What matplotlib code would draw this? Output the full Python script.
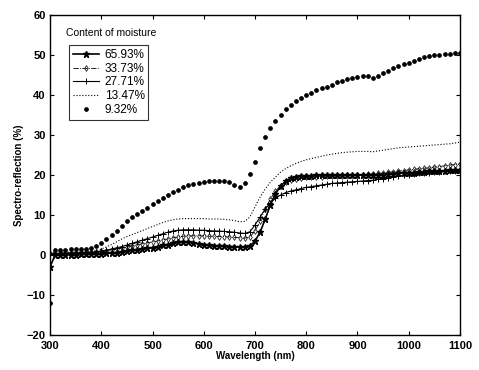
import numpy as np
import matplotlib
matplotlib.use('Agg')
import matplotlib.pyplot as plt

plt.rcParams['font.family'] = ['Liberation Sans', 'DejaVu Sans']

# wavelength grid (nm), 10 nm steps
wavelength = np.arange(300, 1101, 10)

# spectral reflection (%) for each moisture content
m_6593 = [-3.0, 0.0, 0.0, 0.1, 0.1, 0.1, 0.2, 0.2, 0.2, 0.3,
          0.3, 0.4, 0.5, 0.6, 0.8, 1.0, 1.2, 1.3, 1.5, 1.7,
          1.8, 2.1, 2.4, 2.6, 2.9, 3.2, 3.3, 3.2, 3.0, 2.8,
          2.6, 2.5, 2.3, 2.2, 2.2, 2.1, 2.1, 2.0, 2.0, 2.2,
          3.5, 5.7, 9.0, 12.5, 15.3, 17.2, 18.5, 19.2, 19.6, 19.7,
          19.8, 19.8, 19.9, 19.9, 20.0, 20.0, 20.0, 20.0, 20.0, 20.0,
          20.0, 20.0, 19.9, 19.9, 20.0, 20.1, 20.2, 20.3, 20.4, 20.5,
          20.5, 20.6, 20.7, 20.8, 20.9, 21.0, 21.0, 21.1, 21.2, 21.2,
          21.3]

m_3373 = [0.4, 0.4, 0.4, 0.5, 0.5, 0.5, 0.6, 0.6, 0.7, 0.8,
          0.9, 1.1, 1.3, 1.5, 1.7, 2.0, 2.2, 2.5, 2.8, 3.0,
          3.3, 3.5, 3.8, 4.0, 4.3, 4.5, 4.7, 4.8, 4.8, 4.8,
          4.8, 4.7, 4.7, 4.6, 4.6, 4.5, 4.4, 4.3, 4.2, 4.5,
          6.0, 8.5, 11.5, 14.0, 16.0, 17.3, 18.2, 18.7, 19.0, 19.2,
          19.4, 19.5, 19.6, 19.6, 19.7, 19.7, 19.8, 19.8, 19.9, 19.9,
          20.0, 20.1, 20.2, 20.3, 20.4, 20.5, 20.7, 20.8, 21.0, 21.1,
          21.3, 21.4, 21.6, 21.7, 21.8, 22.0, 22.1, 22.3, 22.5, 22.6,
          22.8]

m_2771 = [0.3, 0.4, 0.4, 0.5, 0.5, 0.6, 0.6, 0.7, 0.7, 0.8,
          1.0, 1.2, 1.5, 1.8, 2.1, 2.5, 2.9, 3.3, 3.7, 4.1,
          4.5, 4.9, 5.3, 5.7, 6.0, 6.2, 6.3, 6.3, 6.3, 6.2,
          6.2, 6.1, 6.0, 6.0, 5.9, 5.8, 5.7, 5.5, 5.4, 5.8,
          7.5, 9.5, 11.5, 13.0, 14.2, 15.0, 15.6, 16.0, 16.3, 16.6,
          16.9, 17.1, 17.3, 17.5, 17.7, 17.9, 18.0, 18.1, 18.2, 18.3,
          18.4, 18.5, 18.6, 18.7, 18.9, 19.1, 19.3, 19.5, 19.7, 19.9,
          20.1, 20.3, 20.4, 20.5, 20.6, 20.7, 20.8, 20.9, 21.0, 21.0,
          21.0]

m_1347 = [0.5, 0.6, 0.6, 0.7, 0.7, 0.8, 0.8, 0.9, 0.9, 1.1,
          1.5, 2.0, 2.6, 3.3, 4.0, 4.6, 5.1, 5.6, 6.1, 6.6,
          7.1, 7.6, 8.1, 8.5, 8.8, 9.0, 9.1, 9.1, 9.1, 9.1,
          9.1, 9.0, 9.0, 9.0, 8.9, 8.8, 8.6, 8.3, 8.4, 9.5,
          12.0, 14.5, 16.5, 18.2, 19.5, 20.7, 21.6, 22.3, 22.9, 23.4,
          23.8, 24.1, 24.4, 24.7, 25.0, 25.2, 25.4, 25.6, 25.7, 25.8,
          25.9, 25.9, 25.9, 25.8, 26.0, 26.2, 26.4, 26.6, 26.8, 26.9,
          27.0, 27.1, 27.2, 27.3, 27.4, 27.5, 27.6, 27.7, 27.8, 28.0,
          28.2]

m_932 = [-12.0, 1.2, 1.3, 1.3, 1.4, 1.4, 1.5, 1.6, 1.8, 2.2,
         3.0, 3.9, 5.0, 6.1, 7.2, 8.4, 9.5, 10.2, 10.9, 11.8,
         12.7, 13.5, 14.2, 15.0, 15.7, 16.3, 16.9, 17.4, 17.8, 18.1,
         18.3, 18.5, 18.6, 18.5, 18.4, 18.2, 17.6, 17.0, 18.0, 20.3,
         23.3, 26.8, 29.4, 31.8, 33.6, 35.0, 36.5, 37.6, 38.4, 39.2,
         40.0, 40.6, 41.2, 41.7, 42.1, 42.6, 43.2, 43.6, 44.0, 44.3,
         44.5, 44.7, 44.8, 44.2, 44.8, 45.5, 46.1, 46.7, 47.2, 47.7,
         48.1, 48.6, 49.1, 49.5, 49.8, 50.0, 50.1, 50.2, 50.3, 50.4,
         50.5]

labels = ['65.93%', '33.73%', '27.71%', '13.47%', '9.32%']

fig = plt.figure(figsize=(4.79, 3.70), dpi=100)
ax = fig.add_axes([0.1044, 0.0946, 0.8559, 0.8649])

ax.plot(wavelength, m_6593, color='black', linestyle='-', linewidth=1.2,
        marker='*', markersize=5, label=labels[0])
ax.plot(wavelength, m_3373, color='black', linestyle='-.', linewidth=0.6,
        marker='d', markersize=3, markerfacecolor='none', markeredgewidth=0.5,
        label=labels[1])
ax.plot(wavelength, m_2771, color='black', linestyle='-', linewidth=0.8,
        marker='+', markersize=5, markeredgewidth=0.7, label=labels[2])
ax.plot(wavelength, m_1347, color='black', linestyle=':', linewidth=0.8,
        label=labels[3])
ax.plot(wavelength, m_932, color='black', linestyle='none',
        marker='o', markersize=2.4, label=labels[4])

ax.set_xlim(300, 1100)
ax.set_ylim(-20, 60)
ax.set_xticks(np.arange(300, 1101, 100))
ax.set_yticks(np.arange(-20, 61, 10))
ax.tick_params(direction='in', top=True, right=True, labelsize=8,
               length=3, width=0.8)
ax.tick_params(axis='x', pad=4)
ax.tick_params(axis='y', pad=3)
for lbl in ax.get_xticklabels() + ax.get_yticklabels():
    lbl.set_fontweight('bold')
for s in ax.spines.values():
    s.set_linewidth(1.0)

ax.set_xlabel('Wavelength (nm)', fontsize=7, fontweight='bold', labelpad=0)
ax.set_ylabel('Spectro-reflection (%)', fontsize=7, fontweight='bold', labelpad=2)

ax.text(0.04, 0.945, 'Content of moisture', transform=ax.transAxes,
        fontsize=7.5, ha='left', va='center')
leg = ax.legend(loc='upper left', bbox_to_anchor=(0.047, 0.905), fontsize=8.5,
                frameon=True, fancybox=False, edgecolor='black', numpoints=1,
                borderpad=0.3, labelspacing=0.15, handlelength=2.2,
                handletextpad=0.5, borderaxespad=0)
leg.get_frame().set_linewidth(0.8)

fig.savefig('out.png', dpi=100)
